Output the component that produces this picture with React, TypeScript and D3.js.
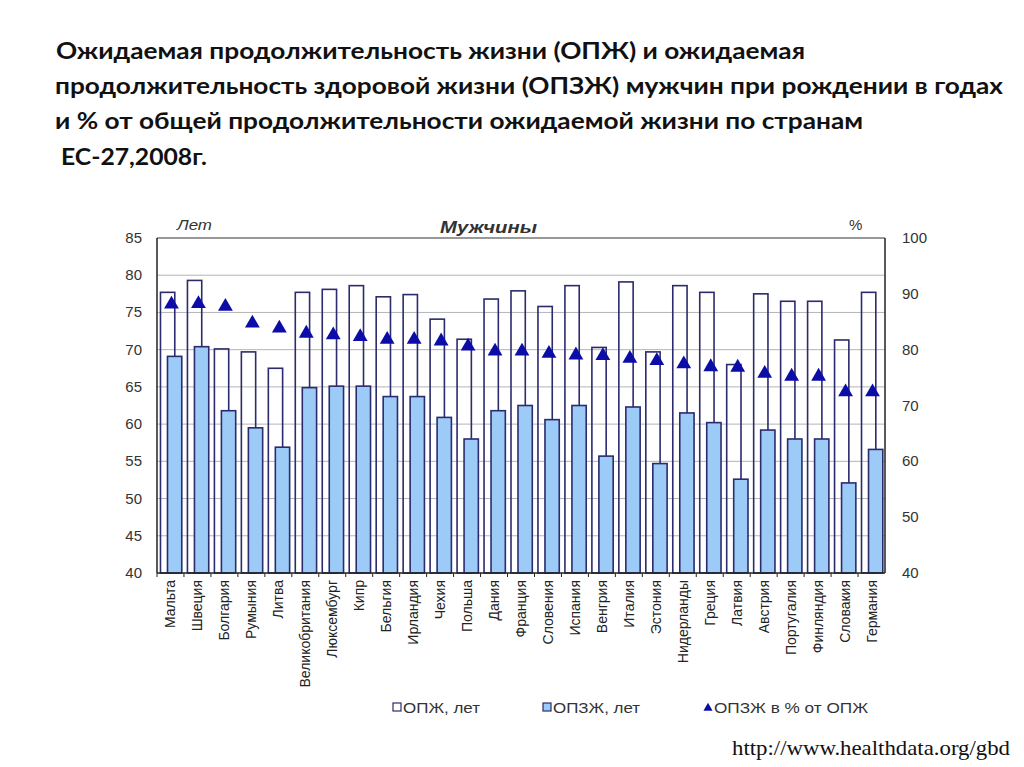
import React from "react";
import * as d3 from "d3";

const countries = [
  "Мальта", "Швеция", "Болгария", "Румыния", "Литва", "Великобритания", "Люксембург",
  "Кипр", "Бельгия", "Ирландия", "Чехия", "Польша", "Дания", "Франция", "Словения",
  "Испания", "Венгрия", "Италия", "Эстония", "Нидерланды", "Греция", "Латвия",
  "Австрия", "Португалия", "Финляндия", "Словакия", "Германия",
];
const lifeExp = [
  77.7, 79.3, 70.1, 69.7, 67.5, 77.7, 78.1, 78.6, 77.1, 77.4, 74.1, 71.4, 76.8, 77.9,
  75.8, 78.6, 70.3, 79.1, 69.7, 78.6, 77.7, 68.0, 77.5, 76.5, 76.5, 71.3, 77.7,
];
const healthyLifeExp = [
  69.1, 70.4, 61.8, 59.5, 56.9, 64.9, 65.1, 65.1, 63.7, 63.7, 60.9, 58.0, 61.8, 62.5,
  60.6, 62.5, 55.7, 62.3, 54.7, 61.5, 60.2, 52.6, 59.2, 58.0, 58.0, 52.1, 56.6,
];
const healthyPct = [
  88.3, 88.4, 87.9, 84.9, 84.0, 83.1, 82.8, 82.5, 82.0, 82.0, 81.7, 80.8, 79.9, 79.9,
  79.5, 79.2, 79.1, 78.6, 78.2, 77.6, 77.1, 77.0, 75.9, 75.4, 75.4, 72.6, 72.6,
];
const leftTicks = [40, 45, 50, 55, 60, 65, 70, 75, 80, 85];
const rightTicks = [40, 50, 60, 70, 80, 90, 100];
const titleLines = [
  "Ожидаемая продолжительность жизни (ОПЖ) и ожидаемая",
  "продолжительность здоровой жизни (ОПЗЖ) мужчин при рождении в годах",
  "и % от общей продолжительности ожидаемой жизни по странам",
  " ЕС-27,2008г.",
];
const legendLabels = ["ОПЖ, лет", "ОПЗЖ, лет", "ОПЗЖ в % от ОПЖ"];

const W = 1024;
const H = 767;
const left = 157;
const right = 885;
const top = 238;
const bottom = 573;

export default function App() {
  const x = d3.scaleBand<string>().domain(countries).range([left, right]).paddingInner(0).paddingOuter(0);
  const yL = d3.scaleLinear().domain([40, 85]).range([bottom, top]);
  const yR = d3.scaleLinear().domain([40, 100]).range([bottom, top]);
  const bw = x.bandwidth();
  const barW = bw * 0.53;
  const tri = d3.symbol().type(d3.symbolTriangle).size(95);

  const titleX = [56, 55, 55, 55];
  const titleLen = [749, 948, 808, 152];
  const titleY = [59, 94, 129, 165];

  const barStroke = "#2b2b6e";
  const fillBlue = "#9ccbf7";
  const triColor = "#0c0ca8";

  return (
    <svg width={W} height={H} style={{ display: "block", position: "absolute", left: 0, top: 0 }}
      fontFamily="'Liberation Sans', Arial, sans-serif">
      <rect x={0} y={0} width={W} height={H} fill="#ffffff" />
      {titleLines.map((t, i) => (
        <text key={i} x={titleX[i]} y={titleY[i]} fontFamily="Lato, 'Open Sans', sans-serif"
          fontWeight="bold" fontSize={23} fill="#111" textLength={titleLen[i]}
          lengthAdjust="spacingAndGlyphs" style={{ whiteSpace: "pre" }} xmlSpace="preserve">
          {t}
        </text>
      ))}

      {/* gridlines */}
      {leftTicks.filter((t) => t > 40 && t < 85).map((t) => (
        <line key={t} x1={left} x2={right} y1={yL(t)} y2={yL(t)} stroke="#b4b4b8" strokeWidth={1} />
      ))}

      {/* outline bars: ОПЖ */}
      {countries.map((c, i) => (
        <rect key={"o" + c} x={x(c)! + bw / 2 - 10} y={yL(lifeExp[i])} width={barW}
          height={bottom - yL(lifeExp[i])} fill="none" stroke={barStroke} strokeWidth={1.6} />
      ))}
      {/* filled bars: ОПЗЖ */}
      {countries.map((c, i) => (
        <rect key={"f" + c} x={x(c)! + bw / 2 - 3} y={yL(healthyLifeExp[i])} width={barW}
          height={bottom - yL(healthyLifeExp[i])} fill={fillBlue} stroke={barStroke} strokeWidth={1.6} />
      ))}
      {/* triangles: % */}
      {countries.map((c, i) => (
        <path key={"t" + c} d={tri()!} fill={triColor}
          transform={`translate(${x(c)! + bw / 2 + 1},${yR(healthyPct[i]) + 1})`} />
      ))}

      {/* frame */}
      <line x1={left} x2={right} y1={top} y2={top} stroke="#333" strokeWidth={1.2} />
      <line x1={left} x2={left} y1={top} y2={bottom} stroke="#222" strokeWidth={1.5} />
      <line x1={right} x2={right} y1={top} y2={bottom} stroke="#222" strokeWidth={1.5} />
      <line x1={left} x2={right} y1={bottom} y2={bottom} stroke="#222" strokeWidth={1.5} />
      {countries.map((c) => (
        <line key={"tk" + c} x1={x(c)!} x2={x(c)!} y1={bottom} y2={bottom + 4} stroke="#222" strokeWidth={1} />
      ))}

      {/* left axis labels */}
      {leftTicks.map((t) => (
        <text key={"l" + t} x={142} y={yL(t) + 5} textAnchor="end" fontSize={15} fill="#333">{t}</text>
      ))}
      {/* right axis labels */}
      {rightTicks.map((t) => (
        <text key={"r" + t} x={902} y={yR(t) + 5} textAnchor="start" fontSize={15} fill="#333">{t}</text>
      ))}

      {/* category labels */}
      {countries.map((c) => {
        const cx = x(c)! + bw / 2 + 5;
        return (
          <text key={"x" + c} transform={`translate(${cx},${bottom + 7}) rotate(-90)`} textAnchor="end"
            fontSize={14} fill="#222">{c}</text>
        );
      })}

      <text x={177} y={230} fontSize={15} fontStyle="italic" fill="#333" textLength={35} lengthAdjust="spacingAndGlyphs">Лет</text>
      <text x={440} y={233} fontSize={16} fontStyle="italic" fontWeight="bold" fill="#333" textLength={97} lengthAdjust="spacingAndGlyphs">Мужчины</text>
      <text x={849} y={230} fontSize={15} fill="#333">%</text>

      {/* legend */}
      <rect x={393} y={703} width={8} height={8} fill="#fff" stroke={barStroke} strokeWidth={1.2} />
      <text x={403} y={713} fontSize={14} fill="#333" textLength={77} lengthAdjust="spacingAndGlyphs">{legendLabels[0]}</text>
      <rect x={543} y={703} width={8} height={8} fill={fillBlue} stroke={barStroke} strokeWidth={1.2} />
      <text x={553} y={713} fontSize={14} fill="#333" textLength={87} lengthAdjust="spacingAndGlyphs">{legendLabels[1]}</text>
      <path d={d3.symbol().type(d3.symbolTriangle).size(36)()!} fill={triColor} transform="translate(708,708)" />
      <text x={714} y={713} fontSize={14} fill="#333" textLength={154} lengthAdjust="spacingAndGlyphs">{legendLabels[2]}</text>

      <text x={732} y={755} fontFamily="'Liberation Serif', 'Times New Roman', serif" fontSize={21} fill="#111"
        textLength={278} lengthAdjust="spacingAndGlyphs">
        http://www.healthdata.org/gbd
      </text>
    </svg>
  );
}
